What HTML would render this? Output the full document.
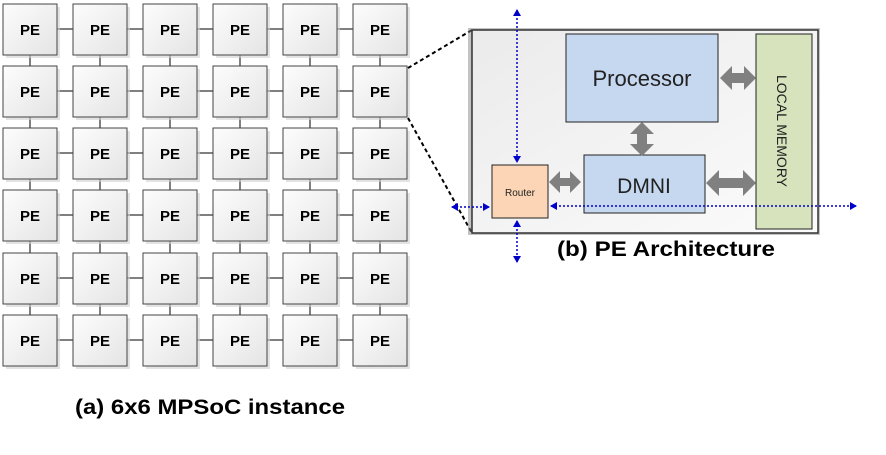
<!DOCTYPE html>
<html><head><style>
body{margin:0;background:#fff;width:886px;height:450px;overflow:hidden;font-family:"Liberation Sans",sans-serif}
</style></head><body>
<svg width="886" height="450" xmlns="http://www.w3.org/2000/svg">
<defs>
<linearGradient id="g" x1="0" y1="0" x2="1" y2="1"><stop offset="0" stop-color="#fdfdfd"/><stop offset="1" stop-color="#e4e4e4"/></linearGradient>
<linearGradient id="g2" x1="0" y1="0" x2="1" y2="1"><stop offset="0" stop-color="#ebebeb"/><stop offset="1" stop-color="#fbfbfb"/></linearGradient>
<marker id="ab" markerWidth="8" markerHeight="8" refX="6" refY="4" orient="auto-start-reverse" markerUnits="userSpaceOnUse"><path d="M0,0 L7,4 L0,8 z" fill="#0000cc"/></marker>
</defs>
<g stroke="#555" stroke-width="1.5">
<g id="links"></g>
</g>
<g id="grid"></g>
<script>
var xs=[3,73,143,213,283,353],ys=[4,66,128,190,253,315],ns="http://www.w3.org/2000/svg",L=document.getElementById('links'),G=document.getElementById('grid');
function el(t,a,p){var e=document.createElementNS(ns,t);for(var k in a)e.setAttribute(k,a[k]);p.appendChild(e);return e}
for(var r=0;r<6;r++)for(var c=0;c<6;c++){var x=xs[c],y=ys[r];
if(c<5)el('line',{x1:x+54,y1:y+25,x2:x+70,y2:y+25},L);
if(r<5)el('line',{x1:x+27,y1:y+51,x2:x+27,y2:ys[r+1]},L);}
for(var r=0;r<6;r++)for(var c=0;c<6;c++){var x=xs[c],y=ys[r];
el('rect',{x:x+3,y:y+3,width:54,height:51,fill:'#d0d0d0',opacity:0.6},G);
el('rect',{x:x,y:y,width:54,height:51,fill:'url(#g)',stroke:'#444','stroke-width':1},G);
var t=el('text',{x:x+27,y:y+31,'text-anchor':'middle','font-size':'15','font-weight':'bold',fill:'#000'},G);t.textContent='PE';}
</script>
<text x="75" y="414" font-size="21" font-weight="bold" textLength="270" lengthAdjust="spacingAndGlyphs">(a) 6x6 MPSoC instance</text>
<line x1="408" y1="68" x2="472" y2="30" stroke="#000" stroke-width="2" stroke-dasharray="4,3"/>
<line x1="408" y1="118" x2="472" y2="233" stroke="#000" stroke-width="2" stroke-dasharray="4,3"/>
<rect x="468" y="28" width="352" height="207" fill="#888" opacity="0.5"/>
<rect x="472" y="30" width="346" height="203" fill="url(#g2)" stroke="#333" stroke-width="1.5"/>
<rect x="566" y="34" width="152" height="88" fill="#c5d8ef" stroke="#222"/>
<text x="642" y="86" text-anchor="middle" font-size="22" fill="#222">Processor</text>
<rect x="756" y="34" width="56" height="195" fill="#d6e3bd" stroke="#222"/>
<text transform="translate(777,131) rotate(90)" text-anchor="middle" font-size="14" fill="#222">LOCAL MEMORY</text>
<rect x="584" y="155" width="121" height="58" fill="#c5d8ef" stroke="#222"/>
<text x="644" y="193" text-anchor="middle" font-size="21" fill="#222">DMNI</text>
<rect x="492" y="165" width="56" height="53" fill="#fbd5b5" stroke="#222"/>
<text x="520" y="196" text-anchor="middle" font-size="10" fill="#222">Router</text>
<g fill="#808080">
<path d="M720,78 l12,-12 v7 h12 v-7 l12,12 l-12,12 v-7 h-12 v7 z"/>
<path d="M642,122 l12,12 h-7 v10 h7 l-12,12 l-12,-12 h7 v-10 h-7 z"/>
<path d="M549,182 l11,-11 v7 h10 v-7 l11,11 l-11,11 v-7 h-10 v7 z"/>
<path d="M706,183 l13,-13 v8 h24 v-8 l13,13 l-13,13 v-8 h-24 v8 z"/>
</g>
<g stroke="#0000cc" stroke-width="1.5" stroke-dasharray="2,2" fill="none">
<line x1="517" y1="10" x2="517" y2="162" marker-start="url(#ab)" marker-end="url(#ab)"/>
<line x1="517" y1="221" x2="517" y2="262" marker-start="url(#ab)" marker-end="url(#ab)"/>
<line x1="452" y1="207" x2="489" y2="207" marker-start="url(#ab)" marker-end="url(#ab)"/>
<line x1="551" y1="206" x2="856" y2="206" marker-start="url(#ab)" marker-end="url(#ab)"/>
</g>
<text x="557" y="256" font-size="21" font-weight="bold" textLength="218" lengthAdjust="spacingAndGlyphs">(b) PE Architecture</text>
</svg>
</body></html>
